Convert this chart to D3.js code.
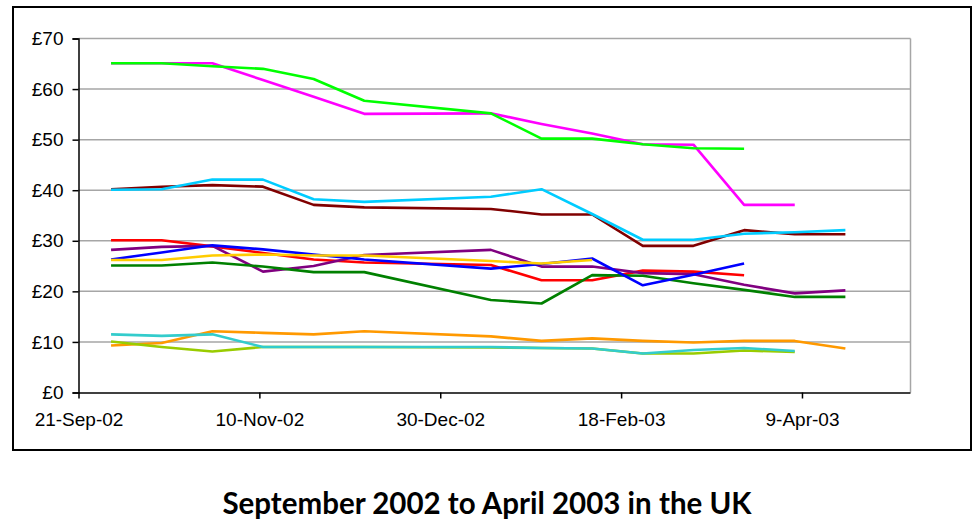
<!DOCTYPE html>
<html>
<head>
<meta charset="utf-8">
<script src="https://cdn.jsdelivr.net/npm/d3@7"></script>
<style>
  html, body { margin: 0; padding: 0; background: #fff; }
  svg { display: block; }
</style>
</head>
<body>
<svg id="chart" width="973" height="520"></svg>
<script>
// ---- data ----
const dates = ["2002-09-30","2002-10-14","2002-10-28","2002-11-11","2002-11-25","2002-12-09",
               "2003-01-13","2003-01-27","2003-02-10","2003-02-24","2003-03-10","2003-03-24",
               "2003-04-07","2003-04-21"];
const tickDates = ["2002-09-21","2002-11-10","2002-12-30","2003-02-18","2003-04-09"];
const tickLabels = ["21-Sep-02","10-Nov-02","30-Dec-02","18-Feb-03","9-Apr-03"];
const yTicks = [0,10,20,30,40,50,60,70];

const seriesDarkRed   = [40.2,40.7,41.0,40.7,37.1,36.6,36.3,35.2,35.2,29.0,29.0,32.1,31.3,31.3];
const seriesMagenta   = [65.1,65.1,65.1,61.8,58.5,55.1,55.2,53.1,51.2,49.1,49.0,37.1,37.1,null];
const seriesGreen     = [65.1,65.1,64.5,64.0,62.0,57.7,55.2,50.2,50.2,49.1,48.3,48.2,null,null];
const seriesCyan      = [40.1,40.2,42.1,42.1,38.2,37.7,38.7,40.2,35.3,30.2,30.2,31.4,31.7,32.1];
const seriesRed       = [30.1,30.1,28.9,27.6,26.3,25.7,25.2,22.2,22.2,24.1,23.9,23.2,null,null];
const seriesPurple    = [28.2,28.8,29.0,23.9,25.0,27.2,28.2,24.9,24.9,23.6,23.4,21.3,19.6,20.2];
const seriesDarkGreen = [25.1,25.1,25.7,24.9,23.8,23.8,18.3,17.6,23.2,23.1,21.6,20.3,18.9,18.9];
const seriesGold      = [26.2,26.2,27.1,27.3,27.1,27.1,26.0,25.5,26.2,null,null,null,null,null];
const seriesBlue      = [26.3,27.7,29.1,28.3,27.3,26.3,24.5,25.4,26.5,21.2,23.3,25.5,null,null];
const seriesOrange    = [9.3,9.8,12.1,11.8,11.5,12.1,11.1,10.2,10.7,10.2,9.9,10.2,10.2,8.7];
const seriesLime      = [10.1,9.0,8.1,9.0,9.0,9.0,8.9,8.8,8.7,7.7,7.7,8.3,8.0,null];
const seriesTurquoise = [11.5,11.2,11.5,9.0,9.0,9.0,9.0,8.8,8.7,7.7,8.4,8.8,8.2,null];

const series = [
  {values: seriesDarkRed,   color: "#800000"},
  {values: seriesMagenta,   color: "#FF00FF"},
  {values: seriesGreen,     color: "#00FF00"},
  {values: seriesCyan,      color: "#00CCFF"},
  {values: seriesRed,       color: "#FF0000"},
  {values: seriesPurple,    color: "#800080"},
  {values: seriesDarkGreen, color: "#008000"},
  {values: seriesBlue,      color: "#0000FF"},
  {values: seriesGold,      color: "#FFCC00"},
  {values: seriesOrange,    color: "#FF9900"},
  {values: seriesLime,      color: "#99CC00"},
  {values: seriesTurquoise, color: "#33CCCC"}
];

// ---- layout ----
const parse = d3.utcParse("%Y-%m-%d");
const svg = d3.select("#chart");
const L = 78.5, R = 910.5, T = 38.5, B = 392.5;

const x = d3.scaleUtc().domain([parse("2002-09-21"), parse("2003-05-09")]).range([L, R]);
const y = d3.scaleLinear().domain([0, 70]).range([B, T]);

// outer frame
svg.append("rect").attr("x", 13).attr("y", 7).attr("width", 958).attr("height", 443)
  .attr("fill", "#fff").attr("stroke", "#000").attr("stroke-width", 2);

// gridlines
svg.append("g").selectAll("line").data(yTicks.filter(v => v > 0)).join("line")
  .attr("x1", L).attr("x2", R).attr("y1", d => y(d)).attr("y2", d => y(d))
  .attr("stroke", "#a6a6a6").attr("stroke-width", 1.5);
// right border
svg.append("line").attr("x1", R).attr("x2", R).attr("y1", T).attr("y2", B)
  .attr("stroke", "#a6a6a6").attr("stroke-width", 1.5);

// lines
const line = d3.line()
  .defined(d => d.v !== null)
  .x(d => x(d.date)).y(d => y(d.v));
svg.append("g").selectAll("path").data(series).join("path")
  .attr("fill", "none")
  .attr("stroke", d => d.color)
  .attr("stroke-width", 2.6)
  .attr("stroke-linejoin", "round")
  .attr("d", s => line(s.values.map((v, i) => ({date: parse(dates[i]), v}))));

// axes
const yAxis = d3.axisLeft(y).tickValues(yTicks).tickSize(6).tickPadding(9)
  .tickFormat(d => "£" + d);
const gy = svg.append("g").attr("transform", `translate(${L},0)`).call(yAxis);
const xAxis = d3.axisBottom(x).tickValues(tickDates.map(parse)).tickSize(6).tickPadding(14)
  .tickFormat((d, i) => tickLabels[i]);
const gx = svg.append("g").attr("transform", `translate(0,${B})`).call(xAxis);

[gx, gy].forEach(g => {
  g.select(".domain").attr("stroke", "#000").attr("stroke-width", 1.5);
  g.selectAll(".tick line").attr("stroke", "#000").attr("stroke-width", 1.5);
  g.selectAll(".tick text").attr("fill", "#000")
    .style("font-family", "'Liberation Sans', Arial, sans-serif").style("font-size", "19px");
});
gx.select(".domain").attr("d", `M${L},0.5H${R}`);

// title
svg.append("text").attr("x", 487).attr("y", 514).attr("text-anchor", "middle")
  .style("font-family", "Lato, 'Open Sans', sans-serif").style("font-weight", "bold")
  .style("font-size", "29.5px").attr("fill", "#000")
  .text("September 2002 to April 2003 in the UK");
</script>
</body>
</html>
